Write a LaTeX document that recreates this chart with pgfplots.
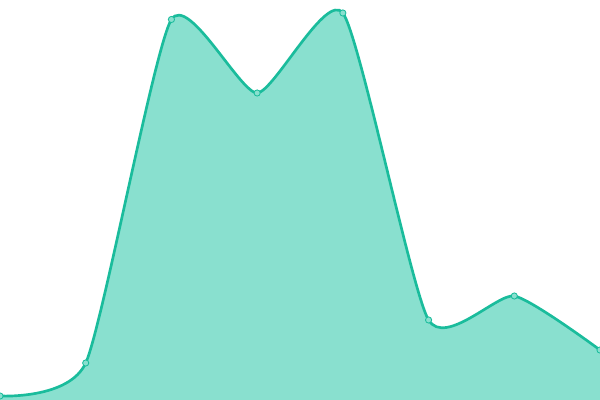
\documentclass[border=0pt]{standalone}
\usepackage{pgfplots}
\pgfplotsset{compat=1.18}
\definecolor{tealline}{RGB}{26,188,156}
\definecolor{tealfill}{RGB}{137,224,207}
\begin{document}
\begin{tikzpicture}
\begin{axis}[
    width=15cm, height=10cm,
    scale only axis,
    hide axis,
    xmin=0, xmax=7,
    ymin=0, ymax=400,
    enlargelimits=false,
    clip marker paths=true,
]
% filled area
\addplot [draw=none, fill=tealfill, smooth, tension=0.35] coordinates {
    (0,4) (1,37) (2,380.5) (3,307) (4,387) (5,80) (6,104) (7,50)
} \closedcycle;
% outline with markers
\addplot [color=tealline, line width=1.9pt, smooth, tension=0.35,
    mark=*, mark size=2.2pt,
    mark options={fill=tealfill, draw=tealline, line width=0.6pt}] coordinates {
    (0,4) (1,37) (2,380.5) (3,307) (4,387) (5,80) (6,104) (7,50)
};
\end{axis}
\end{tikzpicture}
\end{document}
